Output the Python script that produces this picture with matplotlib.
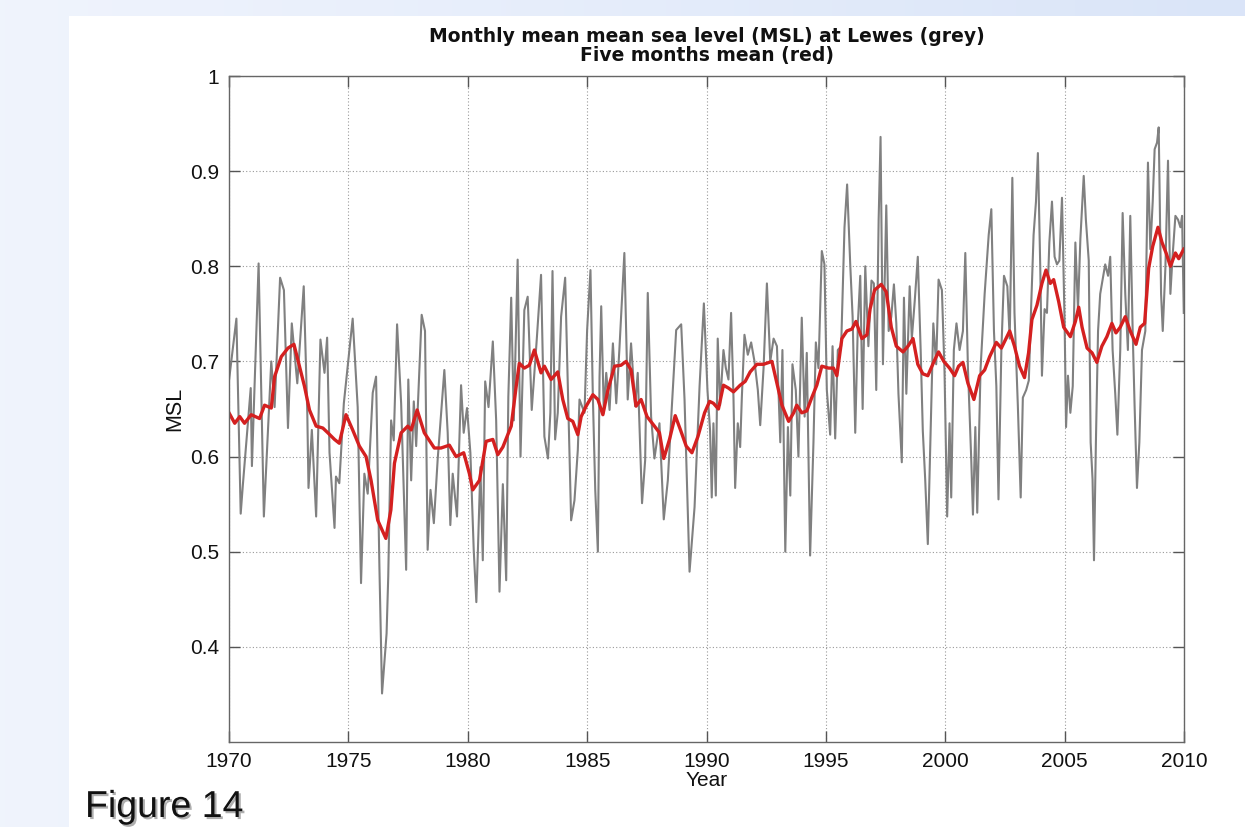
import matplotlib
matplotlib.use("Agg")
import matplotlib.pyplot as plt
import matplotlib.patheffects as pe
from matplotlib.patches import Rectangle
import numpy as np

plt.rcParams['font.family'] = ['Liberation Sans', 'DejaVu Sans']

# Monthly MSL at Lewes (grey) as (decimal year, value)
grey_year = [
    1970.00, 1970.31, 1970.49, 1970.58, 1970.91, 1970.96, 1971.24, 1971.46, 1971.77, 1971.91,
    1972.14, 1972.30, 1972.47, 1972.63, 1972.86, 1973.13, 1973.28, 1973.33, 1973.47, 1973.65,
    1973.83, 1974.00, 1974.11, 1974.21, 1974.42, 1974.48, 1974.62, 1974.81, 1975.18, 1975.39,
    1975.53, 1975.67, 1975.81, 1976.02, 1976.16, 1976.30, 1976.41, 1976.60, 1976.67, 1976.79,
    1976.90, 1977.04, 1977.21, 1977.42, 1977.51, 1977.63, 1977.74, 1977.84, 1978.07, 1978.21,
    1978.32, 1978.44, 1978.58, 1978.74, 1979.02, 1979.16, 1979.27, 1979.37, 1979.55, 1979.72,
    1979.83, 1979.97, 1980.11, 1980.25, 1980.36, 1980.53, 1980.63, 1980.73, 1980.87, 1981.05,
    1981.19, 1981.33, 1981.47, 1981.61, 1981.70, 1981.82, 1981.93, 1982.09, 1982.21, 1982.37,
    1982.51, 1982.68, 1982.89, 1983.07, 1983.21, 1983.36, 1983.46, 1983.55, 1983.66, 1983.77,
    1983.91, 1984.08, 1984.19, 1984.33, 1984.47, 1984.61, 1984.68, 1984.89, 1985.00, 1985.14,
    1985.24, 1985.34, 1985.45, 1985.52, 1985.59, 1985.70, 1985.80, 1985.94, 1986.08, 1986.22,
    1986.35, 1986.56, 1986.70, 1986.84, 1987.01, 1987.12, 1987.30, 1987.43, 1987.54, 1987.68,
    1987.82, 1988.03, 1988.21, 1988.38, 1988.55, 1988.73, 1988.94, 1989.08, 1989.29, 1989.50,
    1989.71, 1989.89, 1990.04, 1990.15, 1990.22, 1990.29, 1990.39, 1990.47, 1990.57, 1990.71,
    1990.81, 1990.92, 1991.03, 1991.13, 1991.20, 1991.31, 1991.41, 1991.48, 1991.59, 1991.73,
    1991.87, 1992.01, 1992.15, 1992.25, 1992.39, 1992.53, 1992.67, 1992.81, 1992.95, 1993.09,
    1993.18, 1993.30, 1993.41, 1993.51, 1993.60, 1993.74, 1993.85, 1993.99, 1994.11, 1994.20,
    1994.34, 1994.48, 1994.58, 1994.69, 1994.83, 1994.94, 1995.04, 1995.18, 1995.28, 1995.39,
    1995.50, 1995.64, 1995.78, 1995.89, 1996.02, 1996.12, 1996.23, 1996.34, 1996.44, 1996.54,
    1996.65, 1996.78, 1996.91, 1997.01, 1997.11, 1997.21, 1997.29, 1997.39, 1997.53, 1997.63,
    1997.74, 1997.85, 1997.95, 1998.04, 1998.18, 1998.27, 1998.37, 1998.51, 1998.60, 1998.72,
    1998.85, 1998.97, 1999.06, 1999.16, 1999.27, 1999.39, 1999.50, 1999.62, 1999.72, 1999.86,
    1999.97, 2000.08, 2000.18, 2000.25, 2000.36, 2000.47, 2000.60, 2000.74, 2000.84, 2000.95,
    2001.09, 2001.16, 2001.26, 2001.34, 2001.48, 2001.65, 2001.82, 2001.93, 2002.04, 2002.14,
    2002.23, 2002.35, 2002.46, 2002.60, 2002.70, 2002.81, 2002.90, 2003.04, 2003.16, 2003.25,
    2003.39, 2003.50, 2003.60, 2003.70, 2003.80, 2003.88, 2003.98, 2004.05, 2004.16, 2004.26,
    2004.36, 2004.47, 2004.58, 2004.68, 2004.78, 2004.89, 2005.00, 2005.06, 2005.14, 2005.24,
    2005.34, 2005.45, 2005.56, 2005.66, 2005.80, 2005.89, 2006.01, 2006.09, 2006.17, 2006.23,
    2006.31, 2006.40, 2006.49, 2006.59, 2006.70, 2006.82, 2006.91, 2007.01, 2007.12, 2007.21,
    2007.33, 2007.43, 2007.54, 2007.65, 2007.75, 2007.85, 2007.93, 2008.03, 2008.13, 2008.24,
    2008.38, 2008.49, 2008.59, 2008.69, 2008.77, 2008.87, 2008.94, 2009.04, 2009.11, 2009.22,
    2009.33, 2009.43, 2009.52, 2009.64, 2009.75, 2009.85, 2009.92, 2009.99,
]
grey_msl = [
    0.680, 0.745, 0.540, 0.570, 0.672, 0.590, 0.803, 0.537, 0.700, 0.652,
    0.788, 0.775, 0.630, 0.740, 0.677, 0.779, 0.645, 0.567, 0.628, 0.537,
    0.723, 0.688, 0.725, 0.604, 0.525, 0.579, 0.572, 0.656, 0.745, 0.652,
    0.467, 0.582, 0.561, 0.667, 0.684, 0.484, 0.351, 0.414, 0.474, 0.638,
    0.617, 0.739, 0.656, 0.481, 0.681, 0.575, 0.658, 0.611, 0.749, 0.732,
    0.502, 0.565, 0.530, 0.597, 0.691, 0.625, 0.528, 0.582, 0.537, 0.675,
    0.625, 0.651, 0.604, 0.502, 0.447, 0.589, 0.491, 0.679, 0.652, 0.721,
    0.638, 0.458, 0.571, 0.470, 0.663, 0.767, 0.638, 0.807, 0.600, 0.754,
    0.768, 0.649, 0.723, 0.791, 0.621, 0.598, 0.646, 0.795, 0.618, 0.646,
    0.747, 0.788, 0.674, 0.533, 0.554, 0.607, 0.660, 0.646, 0.733, 0.796,
    0.663, 0.565, 0.500, 0.684, 0.758, 0.646, 0.688, 0.649, 0.719, 0.656,
    0.712, 0.814, 0.660, 0.719, 0.653, 0.688, 0.551, 0.596, 0.772, 0.642,
    0.598, 0.635, 0.534, 0.575, 0.653, 0.733, 0.739, 0.660, 0.479, 0.547,
    0.674, 0.761, 0.670, 0.627, 0.557, 0.635, 0.559, 0.724, 0.654, 0.712,
    0.693, 0.681, 0.751, 0.662, 0.567, 0.635, 0.610, 0.662, 0.728, 0.707,
    0.720, 0.700, 0.670, 0.633, 0.693, 0.782, 0.700, 0.724, 0.716, 0.615,
    0.712, 0.500, 0.631, 0.559, 0.697, 0.670, 0.600, 0.746, 0.642, 0.709,
    0.496, 0.615, 0.720, 0.693, 0.816, 0.802, 0.670, 0.623, 0.716, 0.619,
    0.712, 0.716, 0.841, 0.886, 0.802, 0.747, 0.625, 0.740, 0.790, 0.650,
    0.800, 0.716, 0.785, 0.782, 0.670, 0.849, 0.936, 0.697, 0.864, 0.732,
    0.747, 0.781, 0.740, 0.666, 0.594, 0.767, 0.666, 0.779, 0.724, 0.763,
    0.810, 0.712, 0.627, 0.576, 0.508, 0.627, 0.740, 0.697, 0.786, 0.775,
    0.689, 0.537, 0.635, 0.557, 0.712, 0.740, 0.712, 0.732, 0.814, 0.693,
    0.596, 0.539, 0.631, 0.541, 0.693, 0.771, 0.833, 0.860, 0.732, 0.674,
    0.555, 0.712, 0.790, 0.779, 0.724, 0.893, 0.751, 0.654, 0.557, 0.662,
    0.670, 0.680, 0.759, 0.833, 0.868, 0.919, 0.798, 0.685, 0.755, 0.751,
    0.825, 0.868, 0.810, 0.802, 0.806, 0.872, 0.740, 0.631, 0.685, 0.646,
    0.674, 0.825, 0.755, 0.829, 0.895, 0.849, 0.806, 0.615, 0.576, 0.491,
    0.615, 0.732, 0.771, 0.786, 0.802, 0.790, 0.810, 0.712, 0.666, 0.623,
    0.712, 0.856, 0.771, 0.712, 0.853, 0.732, 0.654, 0.567, 0.615, 0.712,
    0.732, 0.909, 0.818, 0.868, 0.923, 0.930, 0.946, 0.771, 0.732, 0.798,
    0.911, 0.771, 0.810, 0.853, 0.849, 0.841, 0.853, 0.751,
]

# Five months mean (red)
red_year = [
    1970.00, 1970.24, 1970.45, 1970.65, 1970.93, 1971.28, 1971.49, 1971.77, 1971.91, 1972.19,
    1972.47, 1972.72, 1972.95, 1973.16, 1973.37, 1973.65, 1973.93, 1974.14, 1974.42, 1974.62,
    1974.90, 1975.18, 1975.46, 1975.74, 1975.95, 1976.23, 1976.57, 1976.78, 1976.93, 1977.21,
    1977.49, 1977.63, 1977.88, 1978.18, 1978.60, 1978.88, 1979.23, 1979.51, 1979.83, 1980.07,
    1980.21, 1980.49, 1980.77, 1981.05, 1981.26, 1981.47, 1981.82, 1982.03, 1982.16, 1982.37,
    1982.58, 1982.79, 1983.07, 1983.21, 1983.49, 1983.77, 1983.98, 1984.19, 1984.40, 1984.61,
    1984.75, 1984.96, 1985.24, 1985.45, 1985.66, 1985.87, 1986.15, 1986.42, 1986.63, 1986.84,
    1987.05, 1987.26, 1987.51, 1987.82, 1988.03, 1988.21, 1988.45, 1988.69, 1988.91, 1989.15,
    1989.39, 1989.64, 1989.92, 1990.13, 1990.29, 1990.50, 1990.71, 1990.92, 1991.13, 1991.41,
    1991.62, 1991.83, 1992.11, 1992.39, 1992.74, 1992.95, 1993.16, 1993.44, 1993.65, 1993.78,
    1993.99, 1994.20, 1994.41, 1994.62, 1994.83, 1995.11, 1995.32, 1995.46, 1995.67, 1995.88,
    1996.09, 1996.26, 1996.51, 1996.72, 1996.85, 1997.04, 1997.32, 1997.53, 1997.74, 1997.95,
    1998.23, 1998.44, 1998.65, 1998.85, 1999.06, 1999.27, 1999.53, 1999.72, 1999.94, 2000.18,
    2000.39, 2000.56, 2000.74, 2000.95, 2001.20, 2001.44, 2001.65, 2001.86, 2002.14, 2002.35,
    2002.70, 2002.90, 2003.11, 2003.32, 2003.49, 2003.63, 2003.84, 2004.05, 2004.22, 2004.40,
    2004.54, 2004.75, 2004.96, 2005.24, 2005.45, 2005.59, 2005.73, 2005.94, 2006.15, 2006.35,
    2006.56, 2006.77, 2006.98, 2007.15, 2007.33, 2007.54, 2007.75, 2007.99, 2008.17, 2008.35,
    2008.52, 2008.69, 2008.91, 2009.08, 2009.25, 2009.43, 2009.64, 2009.78, 2009.99,
]
red_msl = [
    0.646, 0.635, 0.642, 0.635, 0.644, 0.640, 0.654, 0.651, 0.684, 0.705,
    0.714, 0.718, 0.695, 0.674, 0.649, 0.632, 0.630, 0.625, 0.618, 0.614,
    0.644, 0.628, 0.611, 0.600, 0.575, 0.533, 0.514, 0.544, 0.593, 0.625,
    0.632, 0.628, 0.649, 0.625, 0.609, 0.609, 0.612, 0.600, 0.604, 0.582,
    0.565, 0.575, 0.616, 0.618, 0.602, 0.610, 0.632, 0.674, 0.698, 0.693,
    0.696, 0.712, 0.688, 0.695, 0.681, 0.689, 0.660, 0.640, 0.637, 0.623,
    0.642, 0.653, 0.665, 0.660, 0.644, 0.670, 0.695, 0.696, 0.700, 0.691,
    0.653, 0.660, 0.642, 0.632, 0.625, 0.598, 0.618, 0.643, 0.628, 0.611,
    0.604, 0.621, 0.646, 0.658, 0.656, 0.650, 0.675, 0.672, 0.668, 0.675,
    0.679, 0.689, 0.697, 0.697, 0.700, 0.677, 0.654, 0.637, 0.646, 0.654,
    0.646, 0.648, 0.662, 0.675, 0.695, 0.693, 0.693, 0.685, 0.724, 0.732,
    0.734, 0.742, 0.724, 0.728, 0.755, 0.775, 0.781, 0.773, 0.736, 0.716,
    0.710, 0.716, 0.724, 0.697, 0.687, 0.685, 0.700, 0.710, 0.700, 0.693,
    0.685, 0.695, 0.699, 0.677, 0.660, 0.685, 0.691, 0.705, 0.720, 0.714,
    0.732, 0.716, 0.695, 0.683, 0.709, 0.744, 0.759, 0.782, 0.796, 0.782,
    0.786, 0.763, 0.736, 0.726, 0.742, 0.757, 0.736, 0.714, 0.709, 0.699,
    0.716, 0.726, 0.740, 0.730, 0.736, 0.747, 0.732, 0.718, 0.736, 0.740,
    0.798, 0.821, 0.841, 0.825, 0.814, 0.800, 0.814, 0.808, 0.818,
]

x_ticks = [1970, 1975, 1980, 1985, 1990, 1995, 2000, 2005, 2010]
y_ticks = [0.4, 0.5, 0.6, 0.7, 0.8, 0.9, 1.0]
y_tick_labels = ['0.4', '0.5', '0.6', '0.7', '0.8', '0.9', '1']

W, H = 1245, 827
fig = plt.figure(figsize=(W / 100, H / 100), dpi=100)

# slide background: pale blue gradient with a white panel
bg = fig.add_axes([0, 0, 1, 1], zorder=-10)
c_left = np.array([0.941, 0.957, 0.992])
c_right = np.array([0.855, 0.898, 0.973])
t = np.linspace(0, 1, 256)[None, :, None]
grad = c_left * (1 - t) + c_right * t
bg.imshow(grad, aspect='auto', extent=[0, 1, 0, 1])
bg.add_patch(Rectangle((69 / W, 0), 1 - 69 / W, 1 - 16 / H,
                       transform=bg.transAxes, facecolor='white', edgecolor='none'))
bg.set_xlim(0, 1)
bg.set_ylim(0, 1)
bg.axis('off')

ax = fig.add_axes([229 / W, 85 / H, 955 / W, 666 / H])
ax.plot(grey_year, grey_msl, color='#808080', linewidth=1.5)
ax.plot(red_year, red_msl, color='#d42020', linewidth=2.4)

ax.set_xlim(1970, 2010)
ax.set_ylim(0.3, 1.0)
ax.set_xticks(x_ticks)
ax.set_yticks(y_ticks)
ax.set_yticklabels(y_tick_labels)
ax.tick_params(direction='in', length=8, width=1, colors='#555555', labelcolor='#111111',
               labelsize=15, pad=7, top=True, right=True)
ax.grid(True, linestyle=(0, (1, 2)), color='#999999', linewidth=0.8)
for sp in ax.spines.values():
    sp.set_color('#666666')
    sp.set_linewidth(1.0)

ax.set_xlabel('Year', fontsize=15, color='#111111')
ax.xaxis.set_label_coords(0.5, -(771 - 742) / 666)
ax.set_ylabel('MSL', fontsize=15.5, color='#111111')
ax.yaxis.set_label_coords((185 - 229) / 955, 0.5)

fig.text(706.5 / W, 1 - 37 / H, 'Monthly mean mean sea level (MSL) at Lewes (grey)',
         ha='center', va='center', fontsize=13.5, fontweight='bold', family='DejaVu Sans',
         color='#111111')
fig.text(706.5 / W, 1 - 55 / H, 'Five months mean (red)',
         ha='center', va='center', fontsize=13.5, fontweight='bold', family='DejaVu Sans',
         color='#111111')

fig.text(85 / W, 1 - 807 / H, 'Figure 14', ha='left', va='center', fontsize=27,
         color='#111111',
         path_effects=[pe.withSimplePatchShadow(offset=(1.5, -1.5), shadow_rgbFace='#9a9a9a', alpha=0.8)])

fig.savefig('out.png', dpi=100)
